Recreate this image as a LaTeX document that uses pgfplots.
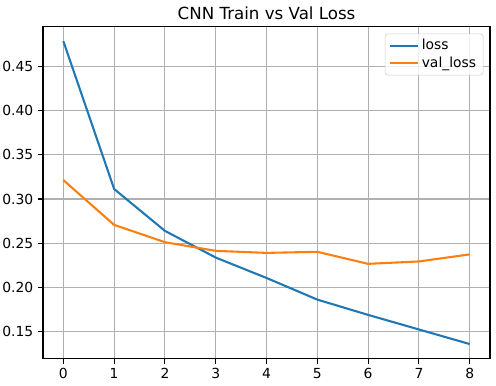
\documentclass[border=0pt]{standalone}
\usepackage{pgfplots}
\pgfplotsset{compat=1.18}
\usepackage{fontspec}
\setmainfont{DejaVu Sans}
\definecolor{mplblue}{HTML}{1F77B4}
\definecolor{mplorange}{HTML}{FF7F0E}
\definecolor{gridgray}{HTML}{B0B0B0}
\begin{document}
\begin{tikzpicture}
\begin{axis}[
  name=ax,
  scale only axis,
  width=322pt, height=239pt,
  xmin=-0.4, xmax=8.4,
  ymin=0.1192, ymax=0.4948,
  xtick={0,1,2,3,4,5,6,7,8},
  ytick={0.15,0.20,0.25,0.30,0.35,0.40,0.45},
  yticklabel style={/pgf/number format/fixed,/pgf/number format/fixed zerofill,/pgf/number format/precision=2},
  /pgf/number format/assume math mode=true,
  tick label style={font=\fontsize{10}{12}\selectfont},
  tick align=outside,
  major tick length=3.5pt,
  tick style={black, line width=0.8pt},
  xtick pos=bottom, ytick pos=left,
  axis line style={line width=0.8pt},
  grid=major,
  major grid style={gridgray, line width=0.8pt},
  title={CNN Train vs Val Loss},
  title style={font=\fontsize{12}{14}\selectfont, yshift=-4pt},
  legend cell align=left,
  legend style={font=\fontsize{10}{12}\selectfont, draw=black!20, rounded corners=2pt, fill=white, fill opacity=0.8, draw opacity=1, text opacity=1, at={(0.985,0.98)}, anchor=north east, row sep=-0.5pt},
  legend image code/.code={\draw[mark repeat=2,mark phase=2,#1] plot coordinates {(0cm,0cm) (0.35cm,0cm) (0.7cm,0cm)};},
]
\addplot[mplblue, line width=1.5pt] coordinates {
 (0,0.4787) (1,0.3113) (2,0.2639) (3,0.2337) (4,0.2106) (5,0.1861) (6,0.1688) (7,0.1523) (8,0.1358)};
\addlegendentry{loss}
\addplot[mplorange, line width=1.5pt] coordinates {
 (0,0.3214) (1,0.2707) (2,0.2511) (3,0.2413) (4,0.2390) (5,0.2402) (6,0.2266) (7,0.2293) (8,0.2373)};
\addlegendentry{val\_loss}
\end{axis}
\pgfresetboundingbox
\path (ax.south west) ++(-31pt,-19.4pt) coordinate (bl);
\path (ax.north east) ++(4.3pt,19.4pt) coordinate (tr);
\path (bl) rectangle (tr);
\end{tikzpicture}
\end{document}
